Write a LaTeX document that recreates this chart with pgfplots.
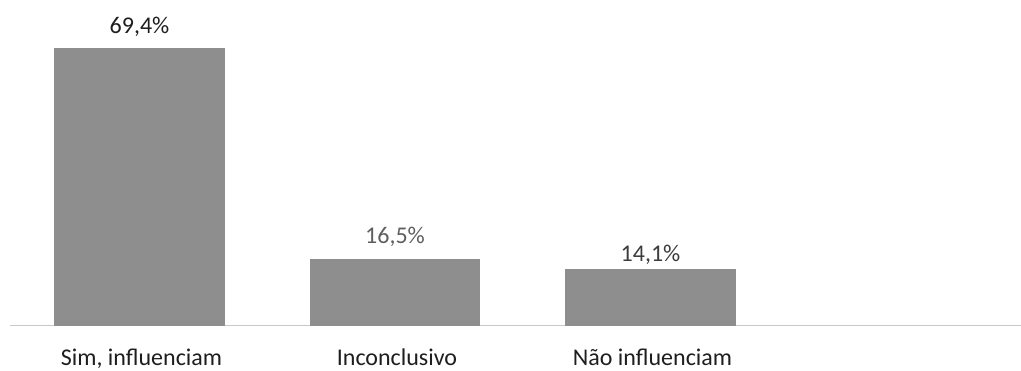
\documentclass[border=0pt]{standalone}
\usepackage{pgfplots}
\pgfplotsset{compat=1.18}
\usepackage{fontspec}
\setmainfont{Carlito}
\definecolor{barc}{RGB}{142,142,142}
\definecolor{axc}{RGB}{200,200,200}
\definecolor{labA}{RGB}{30,30,30}
\definecolor{labB}{RGB}{95,95,95}
\definecolor{labC}{RGB}{60,60,60}
\definecolor{tickc}{RGB}{30,30,30}
\begin{document}
\begin{tikzpicture}
\useasboundingbox (-5pt,-22.25pt) rectangle (505.5pt,162.75pt);
\begin{axis}[
  at={(0,0)}, anchor=south west,
  scale only axis, width=505.5pt, height=162.75pt,
  xmin=-0.5068, xmax=3.450, ymin=0, ymax=81.3,
  axis x line=bottom, axis y line=none,
  axis line style={-, draw=axc, line width=0.8pt},
  xtick={0,1,2}, xticklabels={{Sim, influenciam},{Inconclusivo},{Não influenciam}},
  major tick length=0pt,
  xticklabel style={font=\fontsize{12}{14}\selectfont, text=tickc, anchor=base, yshift=-20.2pt, xshift=1pt},
  ybar, bar width=0.669,
  clip=false,
  /pgf/number format/assume math mode=true,
  nodes near coords={\pgfmathprintnumber[fixed,fixed zerofill,precision=1,use comma]{\pgfplotspointmeta}\%},
]
\addplot[fill=barc, draw=none, bar shift=0pt,
  every node near coord/.append style={anchor=base, yshift=6.85pt, text=labA, font=\fontsize{12}{14}\selectfont}]
  coordinates {(0,69.4)};
\addplot[fill=barc, draw=none, bar shift=0pt,
  every node near coord/.append style={anchor=base, yshift=8.1pt, text=labB, font=\fontsize{12}{14}\selectfont}]
  coordinates {(1,16.5)};
\addplot[fill=barc, draw=none, bar shift=0pt,
  every node near coord/.append style={anchor=base, yshift=3.65pt, text=labC, font=\fontsize{12}{14}\selectfont}]
  coordinates {(2,14.1)};
\end{axis}
\end{tikzpicture}
\end{document}
